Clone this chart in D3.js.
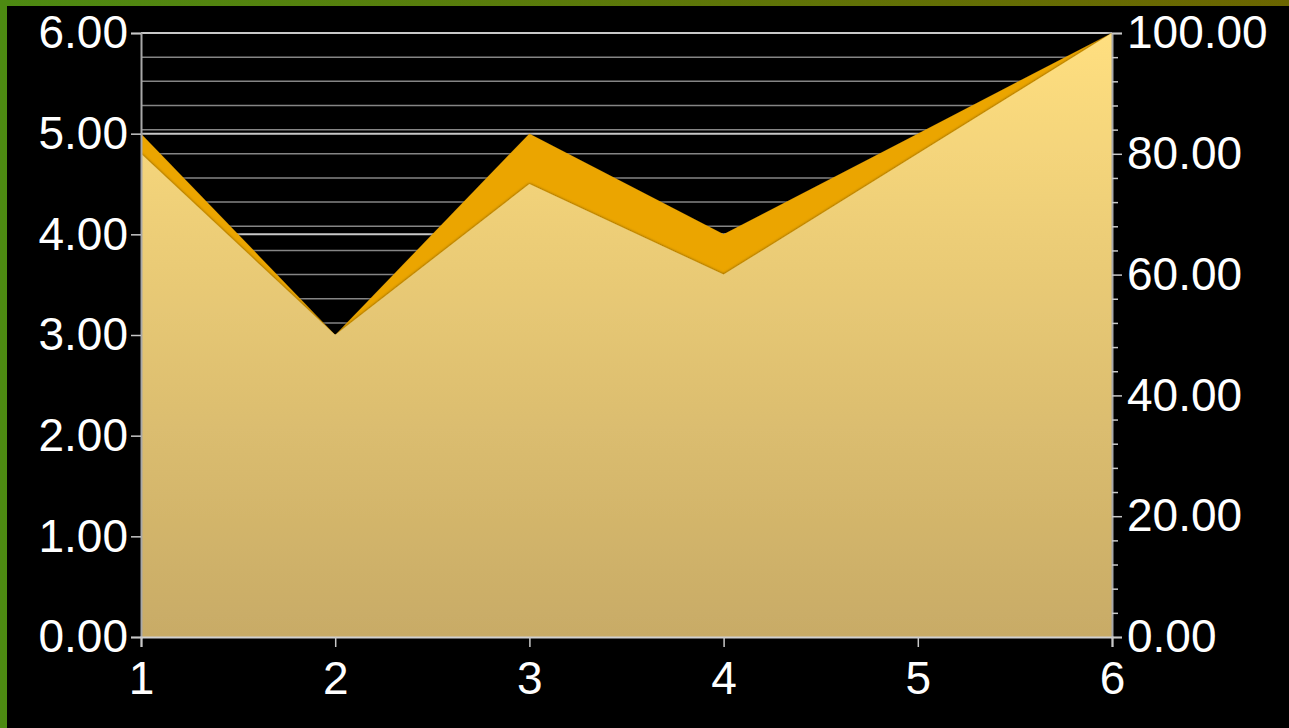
<!DOCTYPE html>
<html>
<head>
<meta charset="utf-8">
<script src="https://cdn.jsdelivr.net/npm/d3@7"></script>
<style>
  html, body { margin: 0; padding: 0; background: #000; }
  svg { display: block; }
  text { font-family: "Liberation Sans", Arial, sans-serif; }
</style>
</head>
<body>
<script>
// ---- data ----
const categories = [1, 2, 3, 4, 5, 6];
const seriesLeft = [5, 3, 5, 4, 5, 6];          // orange, left axis
const seriesRight = [80, 50, 75, 60, 80, 100];   // yellow, right axis
const leftTicks = [0, 1, 2, 3, 4, 5, 6];
const rightTicks = [0, 20, 40, 60, 80, 100];

const W = 1289, H = 728;
const m = { left: 141, right: W - 1112, top: 33, bottom: H - 637 };

const svg = d3.select("body").append("svg").attr("width", W).attr("height", H);
const defs = svg.append("defs");

// border gradient
const bg = defs.append("linearGradient").attr("id", "border").attr("x1", 0).attr("x2", 1).attr("y1", 0).attr("y2", 0);
bg.append("stop").attr("offset", "0%").attr("stop-color", "#4d8a12");
bg.append("stop").attr("offset", "100%").attr("stop-color", "#6b6500");
svg.append("rect").attr("width", W).attr("height", H).attr("fill", "url(#border)");
svg.append("rect").attr("x", 7).attr("y", 6).attr("width", W - 7).attr("height", H - 6).attr("fill", "#000");

const x = d3.scaleLinear().domain([1, 6]).range([m.left, W - m.right]);
const yL = d3.scaleLinear().domain([0, 6]).range([H - m.bottom, m.top]);
const yR = d3.scaleLinear().domain([0, 100]).range([H - m.bottom, m.top]);

// yellow gradient
const yg = defs.append("linearGradient").attr("id", "yel").attr("gradientUnits", "userSpaceOnUse")
  .attr("x1", 0).attr("x2", 0).attr("y1", yR(100)).attr("y2", yR(0));
yg.append("stop").attr("offset", "0%").attr("stop-color", "#ffdf80");
yg.append("stop").attr("offset", "100%").attr("stop-color", "#c8ab66");

const sh = defs.append("filter").attr("id", "shadow").attr("x", "-5%").attr("y", "-5%").attr("width", "110%").attr("height", "110%");
sh.append("feDropShadow").attr("dx", 0).attr("dy", 0).attr("stdDeviation", 1.5).attr("flood-color", "#000").attr("flood-opacity", 0.6);

// gridlines: right-axis minor every 4
const minorR = d3.range(0, 101, 4);
svg.append("g").selectAll("line").data(minorR).join("line")
  .attr("x1", m.left).attr("x2", W - m.right)
  .attr("y1", d => yR(d)).attr("y2", d => yR(d))
  .attr("stroke", "#858585").attr("stroke-width", 1.5);
// left major gridlines
svg.append("g").selectAll("line").data(leftTicks).join("line")
  .attr("x1", m.left).attr("x2", W - m.right)
  .attr("y1", d => yL(d)).attr("y2", d => yL(d))
  .attr("stroke", "#c8c8c8").attr("stroke-width", 2);

// areas
const areaL = d3.area().x((d, i) => x(categories[i])).y0(yL(0)).y1(d => yL(d));
const areaR = d3.area().x((d, i) => x(categories[i])).y0(yR(0)).y1(d => yR(d));
svg.append("path").datum(seriesLeft).attr("d", areaL).attr("fill", "#eba500").attr("filter", "url(#shadow)");
svg.append("path").datum(seriesRight).attr("d", areaR).attr("fill", "url(#yel)").attr("filter", "url(#shadow)");

// axes
const fmt = d3.format(".2f");
const axL = svg.append("g").attr("transform", `translate(${m.left},0)`)
  .call(d3.axisLeft(yL).tickValues(leftTicks).tickFormat(fmt).tickSize(10).tickPadding(3));
const axR = svg.append("g").attr("transform", `translate(${W - m.right},0)`)
  .call(d3.axisRight(yR).tickValues(rightTicks).tickFormat(fmt).tickSize(10).tickPadding(5));
svg.append("g").attr("transform", `translate(${W - m.right},0)`)
  .call(d3.axisRight(yR).tickValues(minorR.filter(d => d % 20 !== 0)).tickFormat("").tickSize(6))
  .call(g => g.select(".domain").remove());
const axX = svg.append("g").attr("transform", `translate(0,${H - m.bottom})`)
  .call(d3.axisBottom(x).tickValues(categories).tickFormat(d3.format("d")).tickSize(10).tickPadding(14));

svg.selectAll(".domain").attr("stroke", "#a8a8a8").attr("stroke-width", 2);
svg.selectAll(".tick line").attr("stroke", "#c8c8c8").attr("stroke-width", 1.5);
svg.selectAll(".tick text").attr("fill", "#fff").attr("font-size", 46)
  .attr("font-family", "'Liberation Sans', Arial, sans-serif");
axX.selectAll(".domain").attr("stroke", "#d0d0d0");
</script>
</body>
</html>
